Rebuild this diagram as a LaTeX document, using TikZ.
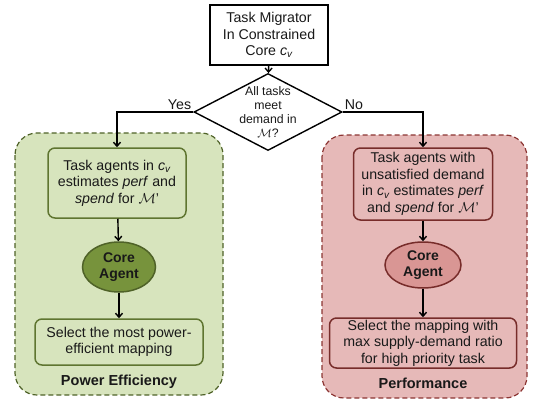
\documentclass[tikz,border=0pt]{standalone}
\usepackage{fontspec}
\setmainfont{Liberation Sans}
\usetikzlibrary{shapes.geometric,arrows.meta}
\definecolor{peFill}{HTML}{D7E4BD}
\definecolor{peLine}{HTML}{5F7530}
\definecolor{peDark}{HTML}{4F6228}
\definecolor{peAgent}{HTML}{77933C}
\definecolor{pfFill}{HTML}{E6B9B8}
\definecolor{pfLine}{HTML}{772C2A}
\definecolor{pfDash}{HTML}{8C3533}
\definecolor{pfAgent}{HTML}{D99694}
\newcommand{\cv}{\textit{c\textsubscript{v}}}
\begin{document}
\begin{tikzpicture}[x=1pt, y=-1pt, >={Straight Barb[length=4pt,width=7pt]},
  every node/.style={font=\fontsize{14.2}{16.5}\selectfont, align=center, text=black!90},
  flow/.style={->, line width=1.4pt},
  region/.style={line width=1.2pt, rounded corners=22pt, dash pattern=on 5pt off 3pt},
  stepbox/.style={rectangle, rounded corners=7pt, line width=1.5pt, inner sep=0pt},
  agent/.style={ellipse, line width=1.5pt, inner sep=0pt, font=\fontsize{14}{16.5}\selectfont\bfseries},
  regionlabel/.style={font=\fontsize{14.5}{16}\selectfont\bfseries}]
  \useasboundingbox (0,0) rectangle (536,402);
  % regions
  \draw[region, draw=peDark, fill=peFill] (15,133) rectangle (223,395);
  \draw[region, draw=pfDash, fill=pfFill] (322,135) rectangle (527,398);
  \node[regionlabel] (peLabel) at (119,382) {Power Efficiency};
  \node[regionlabel] (pfLabel) at (423,383) {Performance};
  % migrator and decision
  \node[draw, line width=1.8pt, minimum width=118pt, minimum height=60pt, inner sep=0pt] (migrator) at (269,35)
    {Task Migrator\\In Constrained\\Core \cv};
  \node[diamond, draw, line width=1.4pt, minimum width=148pt, minimum height=77pt, aspect=1.92, inner sep=-4pt,
    font=\fontsize{12.3}{14}\selectfont] (decision) at (268,112)
    {All tasks\\meet\\demand in\\$\mathcal{M}$?};
  % power efficiency side
  \node[stepbox, draw=peLine, fill=peFill, minimum width=138pt, minimum height=70pt] (peEstimate) at (117,183)
    {Task agents in \cv\\estimates \textit{perf} and\\\textit{spend} for $\mathcal{M}$’};
  \node[agent, draw=peDark, fill=peAgent, minimum width=73pt, minimum height=50pt] (peAgent) at (119,267) {Core\\Agent};
  \node[stepbox, draw=peLine, fill=peFill, minimum width=168pt, minimum height=46pt] (peSelect) at (119,342)
    {Select the most power-\\efficient mapping};
  % performance side
  \node[stepbox, draw=pfLine, fill=pfFill, minimum width=139pt, minimum height=72pt] (pfEstimate) at (423,184)
    {Task agents with\\unsatisfied demand\\in \cv{} estimates \textit{perf}\\and \textit{spend} for $\mathcal{M}$’};
  \node[agent, draw=pfLine, fill=pfAgent, minimum width=76pt, minimum height=46pt] (pfAgent) at (423,265) {Core\\Agent};
  \node[stepbox, draw=pfLine, fill=pfFill, minimum width=187pt, minimum height=50pt] (pfSelect) at (423,343)
    {Select the mapping with\\max supply-demand ratio\\for high priority task};
  % connectors
  \draw[flow] (migrator) -- (decision);
  \draw[flow] (decision.west) node[anchor=south east, inner sep=1.5pt] (yes) {Yes} -| (peEstimate.north);
  \draw[flow] (decision.east) node[anchor=south west, inner sep=1.5pt] (no) {No} -| (pfEstimate.north);
  \draw[flow] (peEstimate) -- (peAgent);
  \draw[flow] (peAgent) -- (peSelect);
  \draw[flow] (pfEstimate) -- (pfAgent);
  \draw[flow] (pfAgent) -- (pfSelect);
\end{tikzpicture}
\end{document}
